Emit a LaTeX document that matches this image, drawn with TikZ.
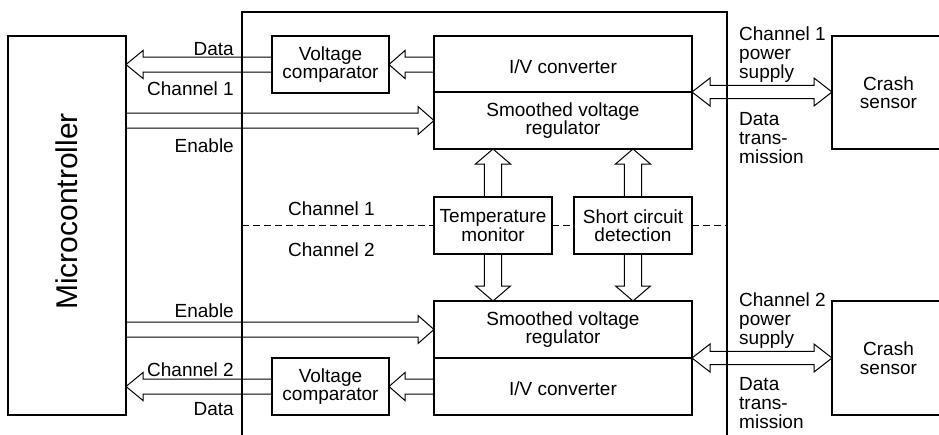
\documentclass[tikz,border=0pt]{standalone}
\usepackage{fontspec}
\usepackage{graphicx}
\setmainfont{Liberation Sans}
\usetikzlibrary{calc}
% hollow arrow: tail, tip, shaft half-width, wing half-width, head length
\newcommand\fatarrow[5]{%
  \coordinate (fahA) at ($(#2)!#5!(#1)$);
  \draw[fatln] ($(#1)!#3!90:(#2)$) -- ($(fahA)!#3!-90:(#1)$) -- ($(fahA)!#4!-90:(#1)$)
     -- (#2) -- ($(fahA)!#4!90:(#1)$) -- ($(fahA)!#3!90:(#1)$) -- ($(#1)!#3!-90:(#2)$);
}
\newcommand\dblarrow[5]{%
  \coordinate (fahA) at ($(#2)!#5!(#1)$);
  \coordinate (fahB) at ($(#1)!#5!(#2)$);
  \draw[fatln] (#1) -- ($(fahB)!#4!90:(#2)$) -- ($(fahB)!#3!90:(#2)$)
     -- ($(fahA)!#3!-90:(#1)$) -- ($(fahA)!#4!-90:(#1)$) -- (#2)
     -- ($(fahA)!#4!90:(#1)$) -- ($(fahA)!#3!90:(#1)$)
     -- ($(fahB)!#3!-90:(#2)$) -- ($(fahB)!#4!-90:(#2)$) -- cycle;
}
\begin{document}
\begin{tikzpicture}[x=1pt,y=-1pt,
  box/.style={draw, line width=1.8pt, inner sep=0pt, outer sep=0pt, align=center,
    font=\fontsize{19}{18.5}\selectfont},
  dn/.style={execute at begin node={\rule{0pt}{#1}}},
  fatln/.style={line width=1pt, line join=miter},
  lbl/.style={inner sep=0pt, font=\fontsize{19}{19}\selectfont},
  chip/.style={line width=2.8pt},
  sep/.style={line width=1pt, dash pattern=on 7pt off 4pt}
]
\useasboundingbox (0,0) rectangle (939,434);

% chip outline
\coordinate (chipTL) at (242,12);
\coordinate (chipTR) at (727,12);
\coordinate (chipBL) at (242,440);
\coordinate (chipBR) at (727,440);
\draw[chip] (chipBL) -- (chipTL) -- (chipTR) -- (chipBR);

% blocks
\node[box, minimum width=118pt, minimum height=379pt] (mc) at (67,225.5)
  {\fontsize{30}{30}\selectfont\rotatebox{90}{\hspace*{28pt}Microcontroller}};
\node[box, dn=23.6pt, minimum width=117pt, minimum height=57pt] (cmp1) at (330.5,64.5) {Voltage\\comparator};
\node[box, dn=20pt, minimum width=258pt, minimum height=56pt] (iv1) at (563,64) {I/V converter};
\node[box, dn=16.6pt, minimum width=258pt, minimum height=57pt] (reg1) at (563,120.5) {Smoothed voltage\\regulator};
\node[box, dn=22pt, minimum width=118pt, minimum height=57pt] (temp) at (493,225.5) {Temperature\\monitor};
\node[box, dn=22pt, minimum width=118pt, minimum height=57pt] (sc) at (633,225.5) {Short circuit\\detection};
\node[box, dn=21.6pt, minimum width=258pt, minimum height=57pt] (reg2) at (563,329.5) {Smoothed voltage\\regulator};
\node[box, dn=18.5pt, minimum width=258pt, minimum height=57pt] (iv2) at (563,386.5) {I/V converter};
\node[box, dn=23.6pt, minimum width=117pt, minimum height=57pt] (cmp2) at (330.5,386.5) {Voltage\\comparator};
\node[box, dn=21.6pt, minimum width=113pt, minimum height=113pt] (cs1) at (888.5,92.5) {Crash\\sensor};
\node[box, dn=21.6pt, minimum width=113pt, minimum height=114pt] (cs2) at (888.5,358) {Crash\\sensor};

% channel separator
\coordinate (sepL) at (chipTL |- temp.west);
\coordinate (sepR) at (chipTR |- sc.east);
\draw[sep] (sepL) -- (temp.west);
\draw[sep] (temp.east) -- (sc.west);
\draw[sep] (sc.east) -- (sepR);

% labels
\node[lbl, anchor=base east] (lData1) at (234,55) {Data};
\node[lbl, anchor=base east] (lCh1) at (234,95) {Channel 1};
\node[lbl, anchor=base east] (lEn1) at (234,152) {Enable};
\node[lbl, anchor=base] (mCh1) at (331.5,215) {Channel 1};
\node[lbl, anchor=base] (mCh2) at (331.5,256) {Channel 2};
\node[lbl, anchor=base east] (lEn2) at (234,317) {Enable};
\node[lbl, anchor=base east] (lCh2) at (234,376) {Channel 2};
\node[lbl, anchor=base east] (lData2) at (234,415) {Data};
\node[lbl, anchor=north west, align=left] (ps1) at (739,26.3) {Channel 1\\power\\supply};
\node[lbl, anchor=north west, align=left] (dt1) at (739,112.4) {Data\\trans-\\mission};
\node[lbl, anchor=north west, align=left] (ps2) at (739,292.3) {Channel 2\\power\\supply};
\node[lbl, anchor=north west, align=left] (dt2) at (739,377.4) {Data\\trans-\\mission};

% arrow end points
\coordinate (a1) at (mc.east |- cmp1.west);
\coordinate (a2) at (iv1.west |- cmp1.east);
\coordinate (a3) at (mc.east |- reg1.west);
\coordinate (a4) at (temp.north |- reg1.south);
\coordinate (a5) at (sc.north |- reg1.south);
\coordinate (a6) at (temp.south |- reg2.north);
\coordinate (a7) at (sc.south |- reg2.north);
\coordinate (a8) at (mc.east |- reg2.west);
\coordinate (a9) at (mc.east |- cmp2.west);
\coordinate (a10) at (iv2.west |- cmp2.east);
\coordinate (d1) at (iv1.south east);
\coordinate (d1b) at (cs1.west |- d1);
\coordinate (d2) at (reg2.south east);
\coordinate (d2b) at (cs2.west |- d2);

% arrows
\fatarrow{cmp1.west}{a1}{7.5pt}{14pt}{17pt}
\fatarrow{a2}{cmp1.east}{7.5pt}{14pt}{16pt}
\fatarrow{a3}{reg1.west}{7.5pt}{14pt}{16pt}
\fatarrow{temp.north}{a4}{8.7pt}{17.5pt}{15pt}
\fatarrow{sc.north}{a5}{8.7pt}{17.5pt}{15pt}
\fatarrow{temp.south}{a6}{8.7pt}{17.5pt}{15pt}
\fatarrow{sc.south}{a7}{8.7pt}{17.5pt}{15pt}
\fatarrow{a8}{reg2.west}{7.5pt}{14pt}{16pt}
\fatarrow{cmp2.west}{a9}{7.5pt}{14pt}{17pt}
\fatarrow{a10}{cmp2.east}{7.5pt}{14pt}{16pt}
\dblarrow{d1}{d1b}{6.7pt}{14pt}{18pt}
\dblarrow{d2}{d2b}{6.7pt}{14pt}{18pt}
\end{tikzpicture}
\end{document}
